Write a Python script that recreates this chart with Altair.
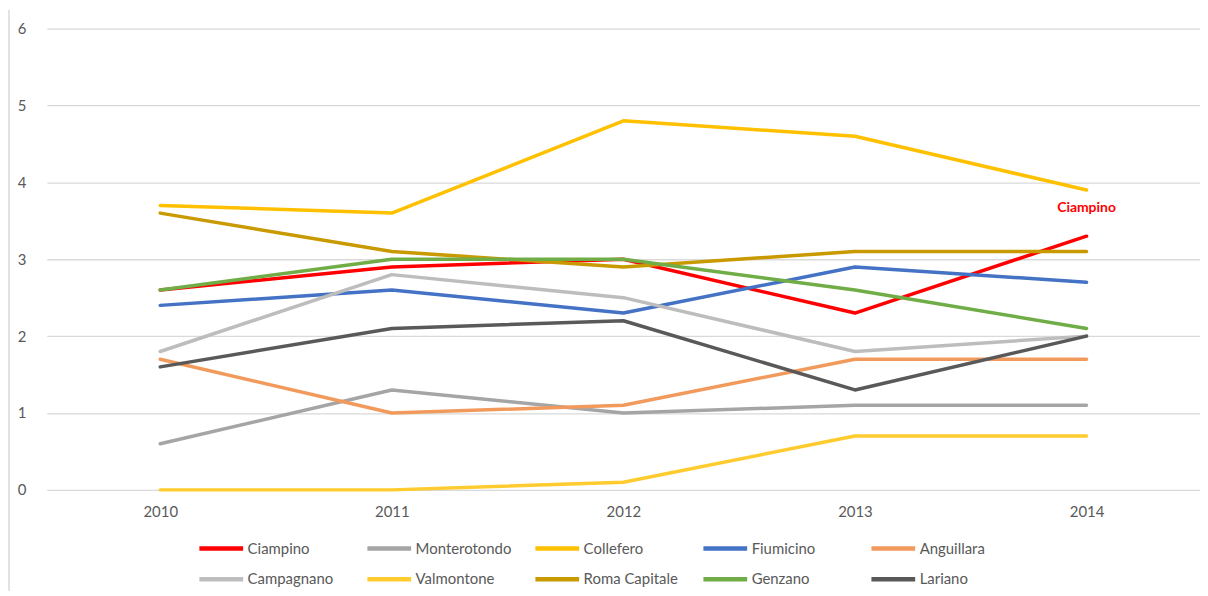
import altair as alt
import pandas as pd

years = ["2010", "2011", "2012", "2013", "2014"]
series_names = ["Ciampino", "Monterotondo", "Collefero", "Fiumicino", "Anguillara",
                "Campagnano", "Valmontone", "Roma Capitale", "Genzano", "Lariano"]
ciampino = [2.6, 2.9, 3.0, 2.3, 3.3]
monterotondo = [0.6, 1.3, 1.0, 1.1, 1.1]
collefero = [3.7, 3.6, 4.8, 4.6, 3.9]
fiumicino = [2.4, 2.6, 2.3, 2.9, 2.7]
anguillara = [1.7, 1.0, 1.1, 1.7, 1.7]
campagnano = [1.8, 2.8, 2.5, 1.8, 2.0]
valmontone = [0.0, 0.0, 0.1, 0.7, 0.7]
roma_capitale = [3.6, 3.1, 2.9, 3.1, 3.1]
genzano = [2.6, 3.0, 3.0, 2.6, 2.1]
lariano = [1.6, 2.1, 2.2, 1.3, 2.0]
colors = ["#FF0000", "#A5A5A5", "#FFC000", "#4472C4", "#F29A5C",
          "#BDBDBD", "#FFCB2E", "#C99A00", "#70AD47", "#595959"]

annotation_text = ["Ciampino"]
annotation_year = ["2014"]
annotation_value = [3.66]

all_values = [ciampino, monterotondo, collefero, fiumicino, anguillara,
              campagnano, valmontone, roma_capitale, genzano, lariano]
rows = []
for order, (name, vals) in enumerate(zip(series_names, all_values)):
    for y, v in zip(years, vals):
        rows.append({"Comune": name, "Anno": y, "Valore": v, "ord": order})
df = pd.DataFrame(rows)
ann = pd.DataFrame({"Anno": annotation_year, "Valore": annotation_value, "t": annotation_text})

FONT = "Lato"

x_enc = alt.X("Anno:O", scale=alt.Scale(type="point", padding=0.49),
              axis=alt.Axis(title=None, labelAngle=0, domain=False, ticks=False, grid=False,
                            labelFont=FONT, labelFontSize=15, labelColor="#595959",
                            labelPadding=15))
y_enc = alt.Y("Valore:Q", scale=alt.Scale(domain=[0, 6], nice=False),
              axis=alt.Axis(title=None, values=[0, 1, 2, 3, 4, 5, 6], format="d",
                            domain=False, ticks=False,
                            grid=True, gridColor="#D9D9D9", gridWidth=1.3,
                            labelFont=FONT, labelFontSize=15, labelColor="#595959",
                            labelPadding=21))

lines = alt.Chart(df).mark_line(strokeWidth=3.5, strokeJoin="round", strokeCap="round").encode(
    x=x_enc,
    y=y_enc,
    color=alt.Color("Comune:N",
                    scale=alt.Scale(domain=series_names, range=colors),
                    legend=alt.Legend(title=None, orient="none", legendX=151, legendY=515,
                                      direction="horizontal", columns=5, gridAlign="all",
                                      symbolType="stroke", symbolSize=1936, symbolStrokeWidth=4.5,
                                      clipHeight=16, symbolOffset=0, labelOffset=2,
                                      columnPadding=21, rowPadding=15,
                                      labelFont=FONT, labelFontSize=15, labelColor="#595959",
                                      labelLimit=300)),
    order=alt.Order("ord:Q"),
)

label = alt.Chart(ann).mark_text(font=FONT, fontSize=14, fontWeight="bold", color="#FF0000").encode(
    x=alt.X("Anno:O"),
    y=alt.Y("Valore:Q"),
    text="t:N",
)

border = alt.Chart(ann).mark_rule(color="#D9D9D9", strokeWidth=1.5).encode(
    x=alt.value(-38), y=alt.value(-19), y2=alt.value(580)
)

chart = alt.layer(border, lines, label).properties(
    width=1160, height=464,
    background="white",
    autosize=alt.AutoSizeParams(type="none"),
    padding={"left": 39, "top": 19, "right": 0, "bottom": 100},
).configure_view(stroke=None)

chart.save("out.html", embed_options={"renderer": "svg", "actions": False})
